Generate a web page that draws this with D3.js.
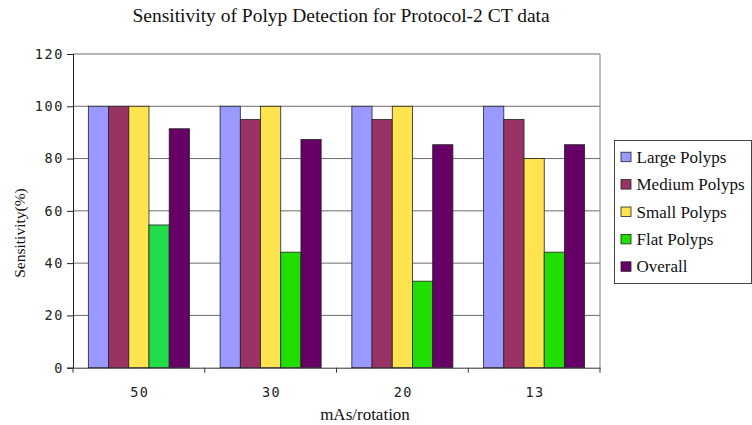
<!DOCTYPE html>
<html><head><meta charset="utf-8">
<script src="https://cdn.jsdelivr.net/npm/d3@7"></script>
<style>body{margin:0;background:#fff}svg{display:block}</style>
</head><body>
<script>
const categories = ["50", "30", "20", "13"];
const seriesNames = ["Large Polyps", "Medium Polyps", "Small Polyps", "Flat Polyps", "Overall"];
const largePolyps = [100, 100, 100, 100];
const mediumPolyps = [100, 95, 95, 95];
const smallPolyps = [100, 100, 100, 80];
const flatPolyps = [54.6, 44.2, 33.1, 44.2];
const overall = [91.4, 87.3, 85.3, 85.3];
const yTicks = [0, 20, 40, 60, 80, 100, 120];
const colors = ["#9999FF", "#993366", "#FFE34F", "#22DD00", "#660066"];

const series = [largePolyps, mediumPolyps, smallPolyps, flatPolyps, overall];
const W = 752, H = 425;
const m = {l: 73, r: 600, t: 54, b: 367.7};

const svg = d3.select("body").append("svg").attr("width", W).attr("height", H);

const x0 = d3.scaleBand().domain(categories).range([m.l, m.r]).paddingInner(0).paddingOuter(0);
const bw = x0.bandwidth();
const x1 = d3.scaleBand().domain(d3.range(seriesNames.length)).range([bw * 0.1165, bw * 0.8835]);
const y = d3.scaleLinear().domain([0, 120]).range([m.b, m.t]);

// gridlines
svg.append("g").selectAll("line").data(yTicks.filter(d => d > 0)).join("line")
  .attr("x1", m.l).attr("x2", m.r).attr("y1", d => y(d)).attr("y2", d => y(d))
  .attr("stroke", "#6b6b6b").attr("stroke-width", 1);
// right border
svg.append("line").attr("x1", m.r).attr("x2", m.r).attr("y1", m.t).attr("y2", m.b)
  .attr("stroke", "#808080");

// bars
const g = svg.append("g");
categories.forEach((c, ci) => {
  series.forEach((s, si) => {
    g.append("rect")
      .attr("x", x0(c) + x1(si))
      .attr("y", y(s[ci]))
      .attr("width", x1.bandwidth())
      .attr("height", y(0) - y(s[ci]))
      .attr("fill", (si === 3 && ci === 0) ? "#22DD4A" : colors[si])
      .attr("stroke", "#222").attr("stroke-width", 0.8);
  });
});

// y axis
const yAxis = svg.append("g").attr("transform", `translate(${m.l},0)`)
  .call(d3.axisLeft(y).tickValues(yTicks).tickSize(6).tickPadding(3));
yAxis.select(".domain").attr("stroke", "#222");
yAxis.selectAll(".tick line").attr("stroke", "#222");
yAxis.selectAll("text").attr("font-family", "DejaVu Sans Mono").attr("font-size", 13.5)
  .attr("letter-spacing", 1.6).attr("fill", "#222");

// x axis
const xAxis = svg.append("g").attr("transform", `translate(0,${m.b})`)
  .call(d3.axisBottom(x0).tickSize(0).tickPadding(20));
xAxis.select(".domain").attr("stroke", "#3a2a3a");
xAxis.selectAll("text").attr("font-family", "DejaVu Sans Mono").attr("font-size", 13.5)
  .attr("letter-spacing", 1.6).attr("dx", 1).attr("fill", "#222");
svg.append("g").selectAll("line").data(d3.range(categories.length + 1)).join("line")
  .attr("x1", i => m.l + i * bw).attr("x2", i => m.l + i * bw)
  .attr("y1", m.b).attr("y2", m.b + 5).attr("stroke", "#3a2a3a");

// title & labels
svg.append("text").attr("x", 341).attr("y", 21.5).attr("text-anchor", "middle")
  .attr("font-family", "Liberation Serif").attr("font-size", 19.5).attr("fill", "#111")
  .text("Sensitivity of Polyp Detection for Protocol-2 CT data");
svg.append("text").attr("x", 365).attr("y", 420).attr("text-anchor", "middle")
  .attr("font-family", "Liberation Serif").attr("font-size", 17).attr("fill", "#111")
  .text("mAs/rotation");
svg.append("text").attr("transform", "translate(25,233) rotate(-90)").attr("text-anchor", "middle")
  .attr("font-family", "Liberation Serif").attr("font-size", 15.5).attr("fill", "#111")
  .text("Sensitivity(%)");

// legend
const lg = svg.append("g");
lg.append("rect").attr("x", 614.5).attr("y", 140.5).attr("width", 137).attr("height", 143)
  .attr("fill", "#fff").attr("stroke", "#444");
seriesNames.forEach((n, i) => {
  const yy = 162.7 + i * 27.4;
  lg.append("rect").attr("x", 621).attr("y", yy - 10.5).attr("width", 10).attr("height", 9.5)
    .attr("fill", colors[i]).attr("stroke", "#222").attr("stroke-width", 0.8);
  lg.append("text").attr("x", 636.5).attr("y", yy)
    .attr("font-family", "Liberation Serif").attr("font-size", 17).attr("fill", "#111").text(n);
});
</script>
</body></html>
